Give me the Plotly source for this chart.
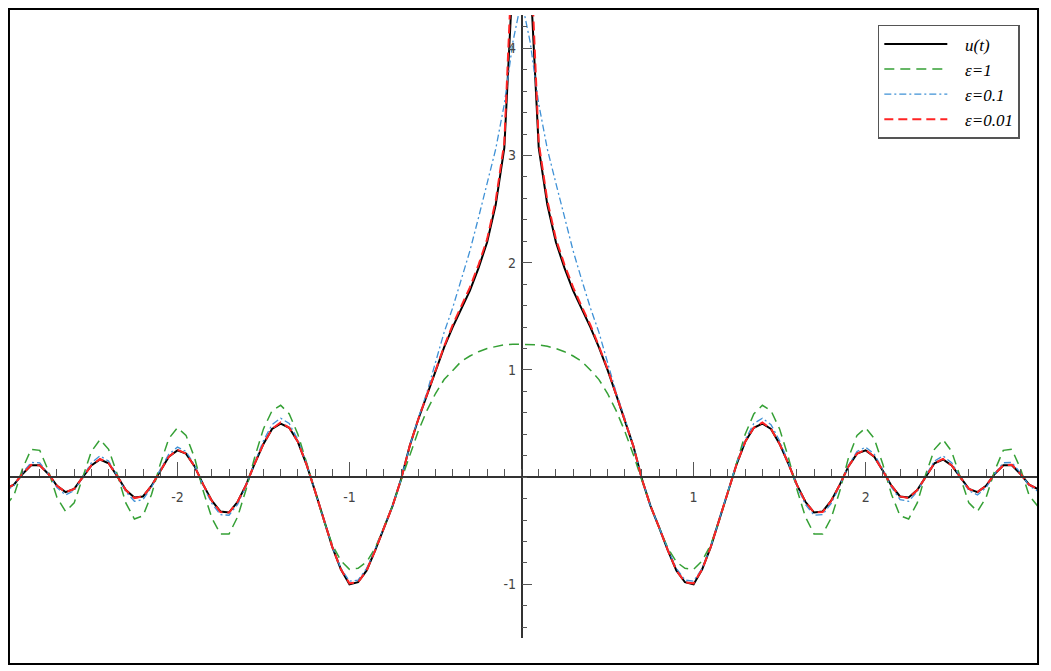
import plotly.graph_objects as go

# sample points t
t = [
    -3.00, -2.95, -2.90, -2.85, -2.80, -2.75, -2.70, -2.65, -2.60, -2.55,
    -2.50, -2.45, -2.40, -2.35, -2.30, -2.25, -2.20, -2.15, -2.10, -2.05,
    -2.00, -1.95, -1.90, -1.85, -1.80, -1.75, -1.70, -1.65, -1.60, -1.55,
    -1.50, -1.45, -1.40, -1.35, -1.30, -1.25, -1.20, -1.15, -1.10, -1.05,
    -1.00, -0.95, -0.90, -0.85, -0.80, -0.75, -0.70, -0.65, -0.60, -0.55,
    -0.50, -0.45, -0.40, -0.35, -0.30, -0.25, -0.20, -0.15, -0.10, -0.05,
    0.00,
    0.05, 0.10, 0.15, 0.20, 0.25, 0.30, 0.35, 0.40, 0.45, 0.50,
    0.55, 0.60, 0.65, 0.70, 0.75, 0.80, 0.85, 0.90, 0.95, 1.00,
    1.05, 1.10, 1.15, 1.20, 1.25, 1.30, 1.35, 1.40, 1.45, 1.50,
    1.55, 1.60, 1.65, 1.70, 1.75, 1.80, 1.85, 1.90, 1.95, 2.00,
    2.05, 2.10, 2.15, 2.20, 2.25, 2.30, 2.35, 2.40, 2.45, 2.50,
    2.55, 2.60, 2.65, 2.70, 2.75, 2.80, 2.85, 2.90, 2.95, 3.00,
]

# exact solution u(t)
u_exact = [
    -0.11, -0.07, 0.03, 0.11, 0.11, 0.03, -0.08, -0.14, -0.11, 0.00,
    0.11, 0.165, 0.13, 0.01, -0.12, -0.19, -0.18, -0.08, 0.06, 0.19,
    0.25, 0.22, 0.10, -0.07, -0.22, -0.32, -0.33, -0.23, -0.07, 0.13,
    0.31, 0.45, 0.50, 0.46, 0.33, 0.12, -0.13, -0.40, -0.65, -0.86,
    -1.00, -0.98, -0.87, -0.68, -0.47, -0.27, -0.02, 0.29, 0.54, 0.77,
    1.00, 1.21, 1.40, 1.57, 1.74, 1.95, 2.19, 2.54, 3.07, 4.70,
    8.0,
    4.70, 3.07, 2.54, 2.19, 1.95, 1.74, 1.57, 1.40, 1.21, 1.00,
    0.77, 0.54, 0.29, -0.02, -0.27, -0.47, -0.68, -0.87, -0.98, -1.00,
    -0.86, -0.65, -0.40, -0.13, 0.12, 0.33, 0.46, 0.50, 0.45, 0.31,
    0.13, -0.07, -0.23, -0.33, -0.32, -0.22, -0.07, 0.10, 0.22, 0.25,
    0.19, 0.06, -0.08, -0.18, -0.19, -0.12, 0.01, 0.13, 0.165, 0.11,
    0.00, -0.11, -0.14, -0.08, 0.03, 0.11, 0.11, 0.03, -0.07, -0.11,
]

# eps = 1
u_eps1 = [
    -0.27, -0.17, 0.08, 0.26, 0.25, 0.06, -0.19, -0.32, -0.24, 0.00,
    0.24, 0.35, 0.26, 0.03, -0.24, -0.39, -0.36, -0.16, 0.12, 0.36,
    0.46, 0.39, 0.18, -0.13, -0.38, -0.53, -0.53, -0.37, -0.11, 0.19,
    0.45, 0.62, 0.67, 0.59, 0.40, 0.14, -0.14, -0.40, -0.63, -0.78,
    -0.86, -0.85, -0.79, -0.66, -0.47, -0.27, -0.03, 0.21, 0.43, 0.62,
    0.78, 0.91, 1.00, 1.08, 1.13, 1.17, 1.20, 1.22, 1.235, 1.24,
    1.24,
    1.24, 1.235, 1.22, 1.20, 1.17, 1.13, 1.08, 1.00, 0.91, 0.78,
    0.62, 0.43, 0.21, -0.03, -0.27, -0.47, -0.66, -0.79, -0.85, -0.86,
    -0.78, -0.63, -0.40, -0.14, 0.14, 0.40, 0.59, 0.67, 0.62, 0.45,
    0.19, -0.11, -0.37, -0.53, -0.53, -0.38, -0.13, 0.18, 0.39, 0.46,
    0.36, 0.12, -0.16, -0.36, -0.39, -0.24, 0.03, 0.26, 0.35, 0.24,
    0.00, -0.24, -0.32, -0.19, 0.06, 0.25, 0.26, 0.08, -0.17, -0.27,
]

# eps = 0.1
u_eps01 = [
    -0.13, -0.08, 0.04, 0.137, 0.134, 0.03, -0.098, -0.166, -0.126, 0.00,
    0.134, 0.198, 0.15, 0.015, -0.135, -0.225, -0.21, -0.093, 0.07, 0.215,
    0.28, 0.24, 0.11, -0.08, -0.245, -0.35, -0.355, -0.255, -0.08, 0.14,
    0.34, 0.49, 0.55, 0.50, 0.35, 0.13, -0.13, -0.40, -0.65, -0.85,
    -0.97, -0.96, -0.85, -0.67, -0.47, -0.27, -0.02, 0.29, 0.55, 0.79,
    1.07, 1.35, 1.58, 1.84, 2.11, 2.42, 2.74, 3.06, 3.48, 4.06,
    4.45,
    4.06, 3.48, 3.06, 2.74, 2.42, 2.11, 1.84, 1.58, 1.35, 1.07,
    0.79, 0.55, 0.29, -0.02, -0.27, -0.47, -0.67, -0.85, -0.96, -0.97,
    -0.85, -0.65, -0.40, -0.13, 0.13, 0.35, 0.50, 0.55, 0.49, 0.34,
    0.14, -0.08, -0.255, -0.355, -0.35, -0.245, -0.08, 0.11, 0.24, 0.28,
    0.215, 0.07, -0.093, -0.21, -0.225, -0.135, 0.015, 0.15, 0.198, 0.134,
    0.00, -0.126, -0.166, -0.098, 0.03, 0.134, 0.137, 0.04, -0.08, -0.13,
]

# eps = 0.01
u_eps001 = [
    -0.11, -0.07, 0.03, 0.115, 0.11, 0.03, -0.08, -0.14, -0.11, 0.00,
    0.11, 0.17, 0.13, 0.01, -0.12, -0.195, -0.18, -0.08, 0.06, 0.19,
    0.255, 0.22, 0.10, -0.07, -0.22, -0.325, -0.33, -0.23, -0.07, 0.13,
    0.31, 0.45, 0.51, 0.46, 0.33, 0.12, -0.13, -0.40, -0.65, -0.86,
    -0.99, -0.98, -0.87, -0.68, -0.47, -0.27, -0.02, 0.29, 0.54, 0.77,
    1.01, 1.22, 1.42, 1.59, 1.77, 1.98, 2.22, 2.58, 3.12, 5.00,
    8.5,
    5.00, 3.12, 2.58, 2.22, 1.98, 1.77, 1.59, 1.42, 1.22, 1.01,
    0.77, 0.54, 0.29, -0.02, -0.27, -0.47, -0.68, -0.87, -0.98, -0.99,
    -0.86, -0.65, -0.40, -0.13, 0.12, 0.33, 0.46, 0.51, 0.45, 0.31,
    0.13, -0.07, -0.23, -0.33, -0.325, -0.22, -0.07, 0.10, 0.22, 0.255,
    0.19, 0.06, -0.08, -0.18, -0.195, -0.12, 0.01, 0.13, 0.17, 0.11,
    0.00, -0.11, -0.14, -0.08, 0.03, 0.11, 0.115, 0.03, -0.07, -0.11,
]

x_ticks = [-2, -1, 1, 2]
y_ticks = [-1, 1, 2, 3, 4]

for arr in (u_exact, u_eps1, u_eps01, u_eps001):
    assert len(arr) == len(t), len(arr)

x_range = [-2.973, 2.996]
y_range = [-1.5, 4.31]

gap = "\u00a0\u00a0\u00a0"  # extra room between legend line and text

fig = go.Figure()
fig.add_trace(go.Scatter(x=t, y=u_exact, mode="lines", name=gap + "u(t)",
                         line=dict(color="black", width=2)))
fig.add_trace(go.Scatter(x=t, y=u_eps1, mode="lines", name=gap + "ε=1",
                         line=dict(color="#35a035", width=1.5, dash="10px,6px")))
fig.add_trace(go.Scatter(x=t, y=u_eps01, mode="lines", name=gap + "ε=0.1",
                         line=dict(color="#3f91d6", width=1.3, dash="7px,3px,2px,3px")))
fig.add_trace(go.Scatter(x=t, y=u_eps001, mode="lines", name=gap + "ε=0.01",
                         line=dict(color="#ff2424", width=2, dash="9px,5px")))

tick_font = dict(family="Liberation Sans Narrow, DejaVu Sans Condensed, Arial", size=14, color="#444")

fig.update_xaxes(
    range=x_range, anchor="free",
    position=(0 - y_range[0]) / (y_range[1] - y_range[0]),
    showgrid=False, zeroline=False,
    showline=True, linecolor="#333", linewidth=1.5,
    tickmode="array", tickvals=x_ticks, ticktext=[str(v) for v in x_ticks],
    ticks="inside", ticklen=14, tickwidth=1.2, tickcolor="#555",
    ticklabelstandoff=7, tickfont=tick_font,
    minor=dict(dtick=0.1, tick0=0, ticks="inside", ticklen=7, tickwidth=1, tickcolor="#555"),
)
fig.update_yaxes(
    range=y_range, anchor="free",
    position=(0 - x_range[0]) / (x_range[1] - x_range[0]),
    showgrid=False, zeroline=False,
    showline=True, linecolor="#333", linewidth=1.5,
    tickmode="array", tickvals=y_ticks, ticktext=[str(v) for v in y_ticks],
    ticks="inside", ticklen=10, tickwidth=1.2, tickcolor="#555",
    ticklabelstandoff=2, tickfont=tick_font,
    minor=dict(dtick=0.2, tick0=0, ticks="inside", ticklen=5, tickwidth=1, tickcolor="#555"),
)

# outer frame around the whole plot
fig.add_shape(type="rect", xref="paper", yref="paper",
              x0=-0.001, x1=1.001, y0=-0.0417, y1=1.0096,
              line=dict(color="black", width=2), fillcolor="rgba(0,0,0,0)")

# page body adds an 8px offset, so the figure is 8px smaller on each side
fig.update_layout(
    width=1043, height=663,
    margin=dict(l=2, r=14, t=7, b=33),
    paper_bgcolor="white", plot_bgcolor="white",
    showlegend=True,
    legend=dict(
        x=0.845, y=0.984, xanchor="left", yanchor="top",
        bgcolor="white", bordercolor="#555", borderwidth=1.5,
        font=dict(family="Liberation Serif, Times New Roman, serif", size=17,
                  color="black", style="italic"),
        itemwidth=63,
    ),
)

fig.write_html("out.html")
